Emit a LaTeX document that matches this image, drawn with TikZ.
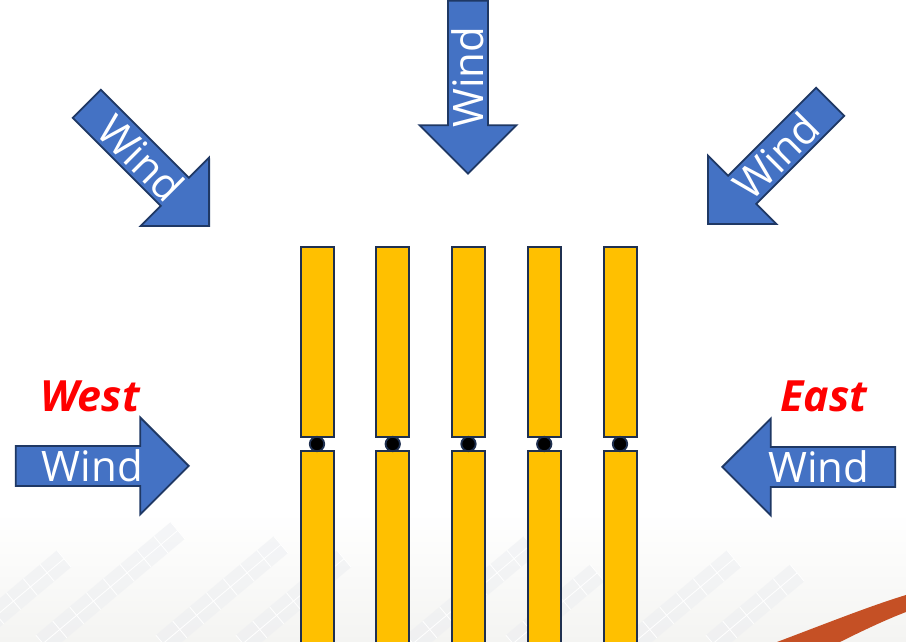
\documentclass[tikz,border=0pt]{standalone}
\usepackage{fontspec}
\setmainfont{Open Sans}
\usetikzlibrary{shapes.arrows}

\definecolor{windblue}{RGB}{68,114,196}
\definecolor{windline}{RGB}{31,56,100}
\definecolor{bladeyellow}{RGB}{255,192,0}
\definecolor{bladeline}{RGB}{31,48,80}
\definecolor{swoosh}{RGB}{197,80,37}
\definecolor{panel}{RGB}{234,236,240}
\definecolor{haze}{RGB}{244,244,242}

\tikzset{
  wind/.style={single arrow, draw=windline, fill=windblue, line width=1.8pt,
    minimum height=173pt, minimum width=97pt, single arrow head extend=24.5pt,
    single arrow tip angle=90, inner sep=0pt, anchor=tip, text=white,
    font=\fontsize{42}{42}\selectfont},
  side/.style={text=red, font=\fontsize{43}{43}\selectfont\bfseries\itshape},
  blade/.style={draw=bladeline, fill=bladeyellow, line width=2pt},
  hinge/.style={fill=black, draw=bladeline, line width=1.8pt}
}

\begin{document}
\begin{tikzpicture}[x=1pt, y=1pt]
    % Background
    \useasboundingbox (0,0) rectangle (906,642);
    \fill[white] (0,0) rectangle (906,642);
    \shade[top color=white, bottom color=haze] (0,0) rectangle (906,130);
    \foreach \sx/\len in {-30/132, 50/176, 170/154, 250/132, 420/154, 520/110, 640/132, 720/110} {
        \begin{scope}[shift={(\sx,-10)}, rotate=40]
            \fill[panel, opacity=0.45] (0,0) rectangle (\len,22);
            \foreach \k in {0,22,...,\len}
                \draw[white, line width=0.8pt] (\k,0) -- (\k,22);
            \draw[white, line width=0.8pt] (0,11) -- (\len,11);
        \end{scope}
    }
    \fill[swoosh] (777,0) .. controls (830,20) and (870,36) .. (906,47)
        -- (906,30) .. controls (885,22) and (860,10) .. (840,0) -- cycle;

    % Blades
    \foreach \i in {0,...,4} {
        \pgfmathsetmacro\bx{317+75.75*\i}
        \draw[blade] (\bx-16.5,205) rectangle (\bx+16.5,395);
        \draw[blade] (\bx-16.5,-5) rectangle (\bx+16.5,191);
        \draw[hinge] (\bx,198) circle (7.2);
    }

    % Wind arrows
    \node[wind, rotate=90, shape border rotate=180] (windN) at (468,467) {Wind};
    \node[wind, rotate=-45] (windNW) at (210,415) {Wind};
    \node[wind, rotate=45, shape border rotate=180] (windNE) at (707,417) {Wind};
    \node[wind] (windW) at (190,176) {Wind};
    \node[wind, shape border rotate=180] (windE) at (721,175) {Wind};

    % Sides
    \node[side] (west) at (90,246) {West};
    \node[side] (east) at (824,246) {East};
\end{tikzpicture}
\end{document}
